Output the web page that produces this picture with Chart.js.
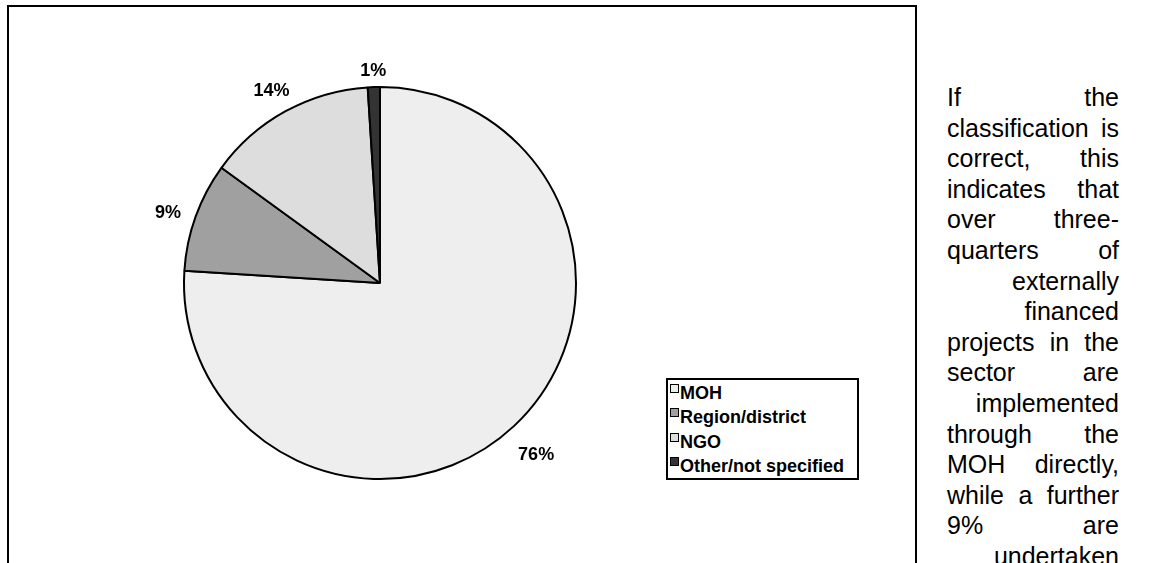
<!DOCTYPE html>
<html lang="en">
<head>
  <meta charset="UTF-8">
  <title>Implementing agencies</title>
  <script src="https://cdn.jsdelivr.net/npm/chart.js"></script>
  <style>
    html,body{margin:0;padding:0;background:#fff;width:1149px;height:563px;overflow:hidden;
      font-family:"Liberation Sans",Arial,sans-serif;}
    /* framed chart object */
    .frame{position:absolute;left:7px;top:5px;width:906px;height:600px;border:2px solid #000;}
    #pie{position:absolute;left:10px;top:8px;}
    .legend{position:absolute;left:666px;top:378px;width:189px;height:98px;border:2px solid #000;background:#fff;}
    .legend .row{position:absolute;left:2px;font-weight:bold;font-size:18px;line-height:20px;white-space:nowrap;}
    .legend .sw{position:absolute;left:0;top:3px;width:7px;height:7px;border:1px solid #000;}
    .legend .lbl{position:absolute;left:10px;top:2px;}
    /* body text next to the chart */
    .txt{position:absolute;left:947px;top:82px;width:172px;font-size:25px;line-height:30.6px;color:#000;}
    .txt div{white-space:nowrap;height:30.6px;}
    .txt .j{text-align:justify;text-align-last:justify;}
    .txt .r{text-align:right;}
  </style>
</head>
<body>
  <div class="frame"></div>
  <canvas id="pie" width="740" height="555"></canvas>
  <div class="legend" id="legend"></div>
  <div class="txt" id="txt"></div>

  <script>
    // ---- data ----
    const categories = ['MOH', 'Region/district', 'NGO', 'Other/not specified'];
    const shares = [76, 9, 14, 1];
    const sliceColors = ['#eeeeee', '#a0a0a0', '#dddddd', '#333333'];

    const paragraph = [
      'If the', 'classification is', 'correct, this', 'indicates that', 'over three-',
      'quarters of', 'externally', 'financed', 'projects in the', 'sector are',
      'implemented', 'through the', 'MOH directly,', 'while a further', '9% are', 'undertaken'
    ];

    // ---- percentage labels outside each slice ----
    const outsideLabels = {
      id: 'outsideLabels',
      afterDatasetsDraw(chart) {
        const ctx = chart.ctx;
        const meta = chart.getDatasetMeta(0);
        const total = shares.reduce((a, b) => a + b, 0);
        ctx.save();
        ctx.font = 'bold 18px "Liberation Sans", Arial, sans-serif';
        ctx.fillStyle = '#000';
        ctx.textAlign = 'center';
        ctx.textBaseline = 'middle';
        meta.data.forEach((arc, i) => {
          const p = arc.getProps(['x', 'y', 'startAngle', 'endAngle', 'outerRadius'], true);
          const mid = (p.startAngle + p.endAngle) / 2;
          const txt = Math.round(shares[i] / total * 100) + '%';
          const w = ctx.measureText(txt).width, h = 13;
          const c = Math.cos(mid), s = Math.sin(mid);
          const d = p.outerRadius + 15 + Math.abs(c) * w / 2 + Math.abs(s) * h / 2;
          ctx.fillText(txt, p.x + c * d, p.y + s * d + 6);
        });
        ctx.restore();
      }
    };

    new Chart(document.getElementById('pie'), {
      type: 'pie',
      data: {
        labels: categories,
        datasets: [{
          data: shares,
          backgroundColor: sliceColors,
          borderColor: '#000',
          borderWidth: 2,
          borderAlign: 'center'
        }]
      },
      options: {
        responsive: false,
        animation: false,
        layout: {padding: {left: 173, right: 173, top: 78, bottom: 83}},
        plugins: {legend: {display: false}, tooltip: {enabled: false}}
      },
      plugins: [outsideLabels]
    });

    // ---- legend box ----
    const leg = document.getElementById('legend');
    categories.forEach((name, i) => {
      const row = document.createElement('div');
      row.className = 'row';
      row.style.top = (0.7 + i * 24.5) + 'px';
      row.innerHTML = '<span class="sw" style="background:' + sliceColors[i] + '"></span>' +
                      '<span class="lbl">' + name + '</span>';
      leg.appendChild(row);
    });

    // ---- justified text column ----
    const txt = document.getElementById('txt');
    paragraph.forEach(line => {
      const d = document.createElement('div');
      d.className = line.includes(' ') ? 'j' : 'r';
      d.textContent = line;
      txt.appendChild(d);
    });
  </script>
</body>
</html>
